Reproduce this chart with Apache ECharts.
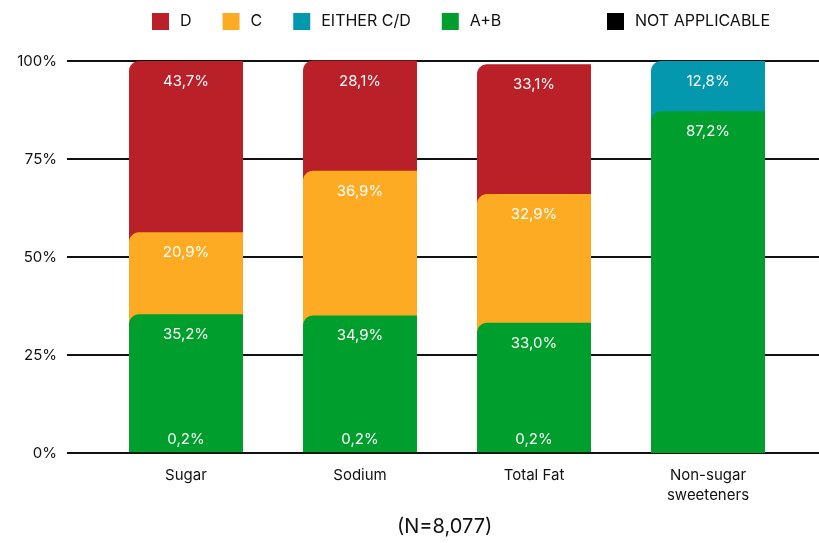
<!DOCTYPE html>
<html>
<head>
<meta charset="utf-8">
<script src="https://cdn.jsdelivr.net/npm/echarts@6/dist/echarts.min.js"></script>
<style>
  html, body { margin: 0; padding: 0; background: #fff; }
  #chart { width: 819px; height: 543px; }
</style>
</head>
<body>
<div id="chart"></div>
<script>
// Nutrient categories and share of products per grade (percent)
const categories = ['Sugar', 'Sodium', 'Total Fat', 'Non-sugar\nsweeteners'];
const gradeD = [43.7, 28.1, 33.1, null];
const gradeC = [20.9, 36.9, 32.9, null];
const eitherCD = [null, null, null, 12.8];
const gradeAB = [35.2, 34.9, 33.0, 87.2];
const notApplicable = [0.2, 0.2, 0.2, null];
const yTicks = [0, 25, 50, 75, 100];
const sampleNote = '(N=8,077)';

const FONT = 'Inter, Roboto, sans-serif';
const BAR_RATIO = 0.655;   // bar width as a share of the category band
const KAPPA = 0.5523;      // bezier factor for a quarter circle

// Segments are drawn as overlapping bars from zero to the running total,
// so the rounded top-left corner of a lower segment shows the one above it.
const layers = [
  { name: 'NOT APPLICABLE', values: notApplicable, color: '#000000', radius: 0, atBottom: true },
  { name: 'A+B', values: gradeAB, color: '#009E2D', radius: 10 },
  { name: 'EITHER C/D', values: eitherCD, color: '#0398AE', radius: 10 },
  { name: 'C', values: gradeC, color: '#FDAB22', radius: 10 },
  { name: 'D', values: gradeD, color: '#BA2027', radius: 10 }
];
const running = categories.map(() => 0);
layers.forEach(l => {
  l.rows = [];
  l.values.forEach((v, i) => {
    if (v == null) return;
    running[i] += v;
    l.rows.push([i, +running[i].toFixed(1), v]);
  });
});

const fmt = v => v.toFixed(1).replace('.', ',') + '%';

// Outline of a bar with only its top-left corner rounded, in local units
function barOutline(w, h, r) {
  r = Math.min(r, w / 2, h);
  if (r <= 0) return `M0 0 L${w} 0 L${w} ${h} L0 ${h} Z`;
  const c = r * (1 - KAPPA);
  return `M0 ${r} C0 ${c} ${c} 0 ${r} 0 L${w} 0 L${w} ${h} L0 ${h} Z`;
}

function makeRenderer(layer) {
  return function (params, api) {
    const idx = api.value(0);
    const total = api.value(1);
    const raw = api.value(2);
    const top = api.coord([idx, total]);
    const base = api.coord([idx, 0]);
    const w = api.size([1, 0])[0] * BAR_RATIO;
    const x = top[0] - w / 2;
    const h = Math.max(base[1] - top[1], 0.5);
    return {
      type: 'group',
      children: [
        {
          type: 'path',
          shape: {
            pathData: barOutline(w, h, layer.radius),
            x: x, y: base[1] - h, width: w, height: h,
            layout: 'cover'
          },
          style: { fill: layer.color }
        },
        {
          type: 'text',
          style: {
            text: fmt(raw),
            x: top[0],
            y: layer.atBottom ? base[1] - 6 : top[1] + 13,
            align: 'center',
            verticalAlign: layer.atBottom ? 'bottom' : 'top',
            fill: '#ffffff',
            fontSize: 15,
            fontFamily: FONT
          }
        }
      ]
    };
  };
}

const series = layers.slice().reverse().map(l => ({
  name: l.name,
  type: 'custom',
  coordinateSystem: 'cartesian2d',
  xAxisIndex: 1,
  yAxisIndex: 1,
  itemStyle: { color: l.color },
  encode: { x: 0, y: 1 },
  data: l.rows,
  renderItem: makeRenderer(l)
}));

const chart = echarts.init(document.getElementById('chart'), null, { renderer: 'canvas' });
chart.setOption({
  animation: false,
  backgroundColor: '#ffffff',
  textStyle: { fontFamily: FONT },
  legend: [
    {
      data: ['D', 'C', 'EITHER C/D', 'A+B'],
      left: 147, top: 8,
      icon: 'rect', itemWidth: 17, itemHeight: 17, itemGap: 31,
      textStyle: { fontSize: 16, color: '#111', fontFamily: FONT, padding: [0, 0, 0, 6] }
    },
    {
      data: ['NOT APPLICABLE'],
      left: 602, top: 8,
      icon: 'rect', itemWidth: 17, itemHeight: 17,
      textStyle: { fontSize: 16, color: '#111', fontFamily: FONT, padding: [0, 0, 0, 6] }
    }
  ],
  grid: [
    { left: 67, right: 0, top: 61, bottom: 90 },
    { left: 99, right: 24, top: 61, bottom: 90 }
  ],
  xAxis: [
    { type: 'value', gridIndex: 0, show: false, min: 0, max: 1 },
    {
      type: 'category', gridIndex: 1, data: categories,
      axisLine: { show: false }, axisTick: { show: false },
      axisLabel: { color: '#111', fontSize: 15, margin: 12, lineHeight: 20, fontFamily: FONT }
    }
  ],
  yAxis: [
    {
      type: 'value', gridIndex: 0, min: yTicks[0], max: yTicks[yTicks.length - 1], interval: 25,
      axisLine: { show: false }, axisTick: { show: false },
      axisLabel: { formatter: '{value}%', color: '#111', fontSize: 15, margin: 10, fontFamily: FONT },
      splitLine: { lineStyle: { color: '#111', width: 2 } }
    },
    { type: 'value', gridIndex: 1, min: 0, max: 100, show: false }
  ],
  graphic: [
    {
      type: 'text', left: 397, top: 517,
      style: { text: sampleNote, fontSize: 20, fill: '#111', fontFamily: FONT }
    }
  ],
  series: series
});
</script>
</body>
</html>
